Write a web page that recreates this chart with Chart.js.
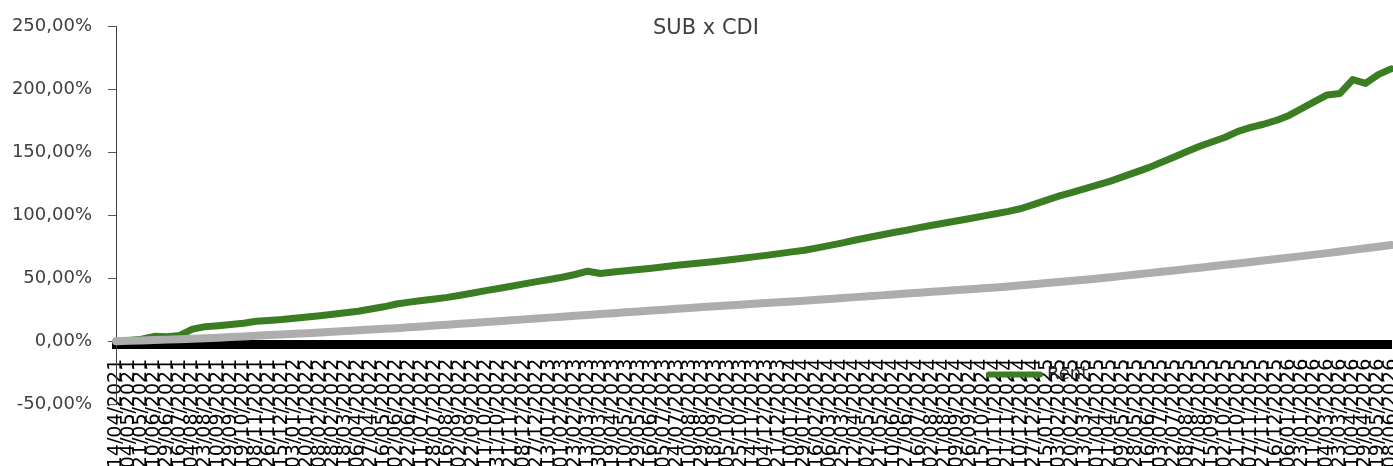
<!DOCTYPE html>
<html><head><meta charset="utf-8">
<script src="https://cdn.jsdelivr.net/npm/chart.js@4"></script>
<style>html,body{margin:0;padding:0;background:#fff}#wrap{width:1393px;height:466px}</style>
</head><body><div id="wrap"><canvas id="c" width="1393" height="466"></canvas></div>
<script>
const titleText = 'SUB x CDI';
const legendLabel = 'Rent';
const categories = [
 "14/04/2021","04/05/2021","21/05/2021","10/06/2021","29/06/2021","16/07/2021","04/08/2021","23/08/2021","10/09/2021","29/09/2021","19/10/2021","08/11/2021","26/11/2021","15/12/2021",
 "03/01/2022","20/01/2022","08/02/2022","28/02/2022","18/03/2022","06/04/2022","27/04/2022","16/05/2022","02/06/2022","22/06/2022","11/07/2022","28/07/2022","16/08/2022","02/09/2022","22/09/2022","11/10/2022","31/10/2022","21/11/2022","08/12/2022","27/12/2022",
 "13/01/2023","01/02/2023","23/02/2023","13/03/2023","30/03/2023","19/04/2023","10/05/2023","29/05/2023","16/06/2023","05/07/2023","24/07/2023","10/08/2023","29/08/2023","18/09/2023","05/10/2023","25/10/2023","14/11/2023","04/12/2023","21/12/2023",
 "10/01/2024","29/01/2024","16/02/2024","06/03/2024","25/03/2024","12/04/2024","02/05/2024","21/05/2024","10/06/2024","27/06/2024","16/07/2024","02/08/2024","21/08/2024","09/09/2024","26/09/2024","15/10/2024","01/11/2024","21/11/2024","10/12/2024","27/12/2024",
 "15/01/2025","03/02/2025","20/02/2025","13/03/2025","01/04/2025","21/04/2025","09/05/2025","28/05/2025","16/06/2025","03/07/2025","22/07/2025","08/08/2025","27/08/2025","15/09/2025","02/10/2025","21/10/2025","07/11/2025","27/11/2025","16/12/2025",
 "06/01/2026","23/01/2026","11/02/2026","04/03/2026","23/03/2026","10/04/2026","29/04/2026","19/05/2026","08/06/2026"
];
const subValues = [
 0, 0.5, 1.5, 3.8, 3.5, 4.5, 9.5, 11.5, 12.3, 13.2,
 14.2, 15.8, 16.5, 17.2, 18.2, 19.2, 20.2, 21.3, 22.5, 23.8,
 25.5, 27.3, 29.5, 31, 32.3, 33.5, 34.8, 36.5, 38.3, 40.2,
 41.8, 43.6, 45.5, 47.3, 49, 50.8, 53, 55.6, 53.8, 55,
 56, 57, 58, 59.2, 60.3, 61.3, 62.3, 63.4, 64.6, 65.8,
 67, 68.2, 69.6, 71, 72.3, 74.2, 76.2, 78.2, 80.4, 82.4,
 84.4, 86.4, 88.2, 90.3, 92.2, 94, 95.8, 97.5, 99.4, 101.3,
 103.2, 105.5, 108.8, 112.2, 115.5, 118.4, 121.3, 124.2, 127.3, 130.8,
 134.4, 138, 142.3, 146.5, 150.8, 155, 158.6, 162.2, 166.8, 170,
 172.5, 175.5, 179.5, 185, 190.5, 195.8, 197, 208, 205, 212,
 216.5
];
const cdiValues = [
 0, 0.3, 0.6, 0.9, 1.2, 1.5, 1.8, 2.2, 2.7, 3.2,
 3.7, 4.2, 4.8, 5.3, 5.8, 6.3, 6.9, 7.5, 8.0, 8.6,
 9.2, 9.8, 10.3, 11.0, 11.7, 12.4, 13.1, 13.8, 14.5, 15.2,
 15.9, 16.6, 17.3, 18.0, 18.7, 19.4, 20.1, 20.8, 21.5, 22.2,
 22.9, 23.6, 24.3, 25.0, 25.7, 26.4, 27.1, 27.7, 28.4, 29.0,
 29.7, 30.3, 30.9, 31.6, 32.2, 32.9, 33.6, 34.3, 35.0, 35.7,
 36.4, 37.1, 37.8, 38.5, 39.2, 39.9, 40.6, 41.3, 42.0, 42.7,
 43.5, 44.4, 45.3, 46.2, 47.1, 48.0, 48.9, 49.8, 50.8, 51.9,
 53.0, 54.1, 55.2, 56.2, 57.3, 58.4, 59.5, 60.7, 61.8, 63.0,
 64.1, 65.3, 66.4, 67.6, 68.8, 70.0, 71.3, 72.6, 73.8, 75.1,
 76.4
];
const yMin = -50, yMax = 250, yStep = 50;
const axisCrossValue = -2.9;

const GREEN = '#3b7d23', GRAY = '#adadad';
const FONT = "'DejaVu Sans', sans-serif";
const fmtPct = v => v.toFixed(2).replace('.', ',') + '%';

const overlay = {
  id: 'overlay',
  afterDraw(chart) {
    const ctx = chart.ctx;
    ctx.save();
    ctx.fillStyle = '#404040';
    ctx.font = "21px " + FONT;
    ctx.textAlign = 'center';
    ctx.textBaseline = 'middle';
    ctx.fillText(titleText, 706, 29);
    ctx.strokeStyle = GREEN;
    ctx.lineWidth = 6;
    ctx.lineCap = 'round';
    ctx.beginPath();
    ctx.moveTo(989, 374.5);
    ctx.lineTo(1040, 374.5);
    ctx.stroke();
    ctx.fillStyle = '#262626';
    ctx.font = "18px " + FONT;
    ctx.textAlign = 'left';
    ctx.fillText(legendLabel, 1047, 374);
    ctx.restore();
  }
};

new Chart(document.getElementById('c'), {
  type: 'line',
  data: {
    labels: categories,
    datasets: [
      { label: 'CDI', data: cdiValues, borderColor: GRAY, borderWidth: 8, pointRadius: 0, tension: 0, order: 0, borderCapStyle: 'round', borderJoinStyle: 'round' },
      { label: legendLabel, data: subValues, borderColor: GREEN, borderWidth: 7, pointRadius: 0, tension: 0, order: 1, borderCapStyle: 'round', borderJoinStyle: 'round' }
    ]
  },
  options: {
    responsive: false,
    animation: false,
    layout: { padding: { top: 24, bottom: 62, left: 0, right: 2 } },
    plugins: { legend: { display: false }, title: { display: false }, tooltip: { enabled: false } },
    scales: {
      x: {
        type: 'category',
        position: { y: axisCrossValue },
        offset: false,
        grid: { display: false, drawTicks: false },
        border: { display: true, color: '#000', width: 9 },
        ticks: { autoSkip: false, minRotation: 90, maxRotation: 90, padding: 14, color: '#000', font: { family: FONT, size: 19 } },
        afterFit(s) { s.height = 0; s.paddingLeft = 0; s.paddingRight = 0; }
      },
      y: {
        min: yMin, max: yMax,
        ticks: { stepSize: yStep, padding: 16, color: '#404040', font: { family: FONT, size: 18 }, callback: v => fmtPct(v) },
        grid: { drawOnChartArea: false, drawTicks: true, tickLength: 8, color: '#595959' },
        border: { display: true, color: '#404040', width: 1 },
        afterFit(s) { s.width = 116; }
      }
    }
  },
  plugins: [overlay]
});
</script>
</body></html>
